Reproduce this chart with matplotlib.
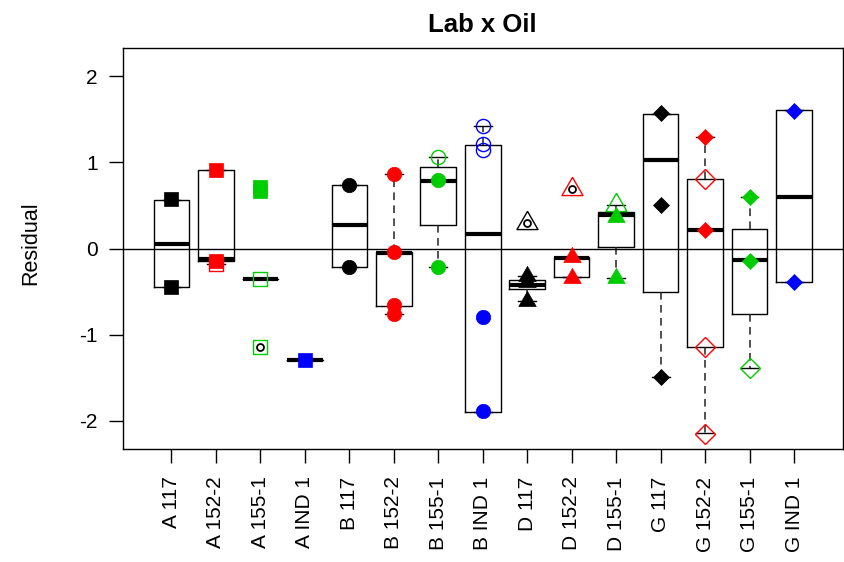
import matplotlib
matplotlib.use("Agg")
import matplotlib.pyplot as plt

plt.rcParams['font.family'] = ['Liberation Sans', 'DejaVu Sans']

# Groups: lab x oil
labs = ["A", "A", "A", "A", "B", "B", "B", "B", "D", "D", "D", "G", "G", "G", "G"]
oils = ["117", "152-2", "155-1", "IND 1", "117", "152-2", "155-1", "IND 1",
        "117", "152-2", "155-1", "117", "152-2", "155-1", "IND 1"]

# Box statistics of the residuals per group
q1 = [-0.45, -0.14, -0.35, -1.29, -0.215, -0.666, 0.27, -1.895,
      -0.47, -0.337, 0.012, -0.503, -1.141, -0.762, -0.387]
med = [0.055, -0.125, -0.35, -1.29, 0.27, -0.058, 0.79, 0.174,
       -0.42, -0.11, 0.386, 1.032, 0.212, -0.136, 0.599]
q3 = [0.56, 0.91, -0.35, -1.29, 0.735, -0.04, 0.947, 1.198,
      -0.37, -0.10, 0.425, 1.566, 0.812, 0.224, 1.604]
whis_lo = [-0.45, -0.175, -0.35, -1.29, -0.215, -0.76, -0.213, -1.895,
           -0.61, -0.337, -0.345, -1.49, -2.146, -1.392, -0.387]
whis_hi = [0.56, 0.91, -0.35, -1.29, 0.735, 0.87, 1.06, 1.42,
           -0.32, -0.10, 0.50, 1.566, 1.295, 0.599, 1.604]

# Outlying residuals flagged by the boxplot rule
outliers = [[], [], [0.72, 0.67, -1.14], [], [], [], [], [],
            [0.30], [0.69], [], [], [], [], []]

# Individual residuals: solid and hollow symbols
filled_pts = [[0.58, -0.45], [0.91, -0.14], [0.72, 0.67], [-1.29],
              [0.74, -0.22], [0.87, -0.04, -0.66, -0.76], [0.80, -0.21], [-0.80, -1.89],
              [-0.32, -0.39, -0.61], [-0.10, -0.34], [0.37, -0.345],
              [1.57, 0.50, -1.49], [1.30, 0.21], [0.60, -0.14], [1.60, -0.39]]
open_pts = [[], [-0.175], [-0.35, -1.14], [],
            [], [], [1.06], [1.42, 1.22, 1.15],
            [0.30], [0.69], [0.50],
            [], [0.81, -1.14, -2.15], [-1.39], []]

oil_colors = {"117": "black", "152-2": "#FF0000", "155-1": "#00CD00", "IND 1": "#0000FF"}

tri = [(0, 1), (-0.866, -0.5), (0.866, -0.5), (0, 1)]
filled_style = {"A": dict(marker="s", ms=10.6),
                "B": dict(marker="o", ms=10.4),
                "D": dict(marker=tri, ms=14.5),
                "G": dict(marker="D", ms=7.8)}
open_style = {"A": dict(marker="s", ms=10.2),
              "B": dict(marker="o", ms=10.2),
              "D": dict(marker=tri, ms=17.5),
              "G": dict(marker="D", ms=10.0)}

positions = list(range(1, len(labs) + 1))
tick_labels = [f"{l} {o}" for l, o in zip(labs, oils)]

fig = plt.figure(figsize=(8.44, 5.62), dpi=100)
W, H = 844, 562
ax = fig.add_axes([122.5 / W, (H - 449) / H, (843 - 122.5) / W, (449 - 48) / H])

stats = []
for i in range(len(labs)):
    stats.append(dict(med=med[i], q1=q1[i], q3=q3[i],
                      whislo=whis_lo[i], whishi=whis_hi[i], fliers=[]))

lw = 1.0
ax.bxp(stats, positions=positions, widths=0.8, capwidths=0.4, showfliers=False,
       boxprops=dict(color="black", lw=lw),
       medianprops=dict(color="black", lw=3.0, solid_capstyle="butt"),
       whiskerprops=dict(color="#222222", lw=1.1, linestyle=(0, (5.0, 3.5))),
       capprops=dict(color="black", lw=lw), manage_ticks=False)

ax.axhline(0, color="black", lw=lw, zorder=2.5)

for i, p in enumerate(positions):
    col = oil_colors[oils[i]]
    if outliers[i]:
        ax.plot([p] * len(outliers[i]), outliers[i], linestyle="none", marker="o",
                ms=5.0, mfc="none", mec="black", mew=1.3, zorder=3)
    if open_pts[i]:
        st = open_style[labs[i]]
        ax.plot([p] * len(open_pts[i]), open_pts[i], linestyle="none",
                marker=st["marker"], ms=st["ms"], mfc="none", mec=col, mew=1.0, zorder=4)
    if filled_pts[i]:
        st = filled_style[labs[i]]
        ax.plot([p] * len(filled_pts[i]), filled_pts[i], linestyle="none",
                marker=st["marker"], ms=st["ms"], mfc=col, mec=col, mew=0.5, zorder=5)

ax.set_xlim(-0.1, 16.1)
ax.set_ylim(-2.33, 2.33)
ax.set_xticks(positions)
ax.set_xticklabels(tick_labels, rotation=90, ha="center", va="top")
ax.set_yticks([-2, -1, 0, 1, 2])
ax.set_yticklabels(["-2", "-1", "0", "1", "2"])
ax.tick_params(axis="both", length=9.8, width=lw, labelsize=15, color="black")
ax.tick_params(axis="x", pad=10)
ax.tick_params(axis="y", pad=8)
for s in ax.spines.values():
    s.set_linewidth(lw)

ax.set_title("Lab x Oil", fontsize=18.5, fontweight="bold", pad=11.5)
ax.set_ylabel("Residual", fontsize=15.5)
ax.yaxis.set_label_coords(-0.1124, 0.5125)

fig.savefig("out.png", dpi=100)
